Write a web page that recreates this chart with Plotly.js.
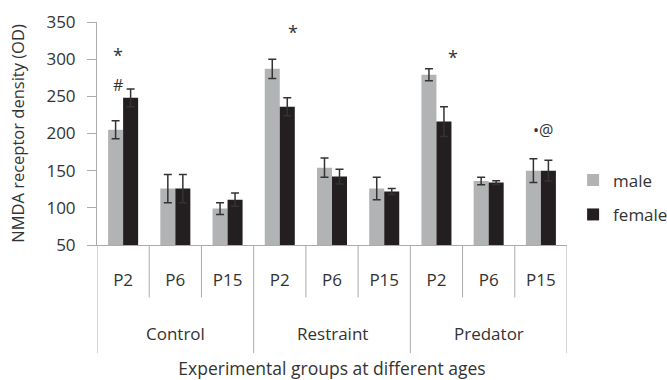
<!DOCTYPE html>
<html>
<head>
<meta charset="utf-8">
<script src="https://cdn.plot.ly/plotly-3.0.1.min.js"></script>
<style>html,body{margin:0;padding:0;background:#fff;}#chart{width:667px;height:380px;}</style>
</head>
<body>
<div id="chart"></div>
<script>
// Data
const groups = ["Control", "Restraint", "Predator"];
const ages = ["P2", "P6", "P15"];
const maleValues = [205, 126, 99, 287, 154, 126, 279, 136, 150];
const maleErrors = [12, 19, 8, 13, 13, 15, 8, 5, 16];
const femaleValues = [248, 126, 111, 236, 142, 122, 216, 134, 150];
const femaleErrors = [12, 19, 9, 12, 10, 4, 20, 2.5, 14];
const markLabels = ["*", "#", "*", "*", "•@"];
const markX = [-0.1, -0.1, 3.25, 6.32, 8.04];
const markY = [305, 265, 336, 303, 205];

const nAges = ages.length;
const nCats = groups.length * nAges;
const idx = Array.from({length: nCats}, (_, i) => i);
const tickText = idx.map(i => ages[i % nAges]);

const textColor = "#333333";
const lineColor = "#ababab";
const font = "Open Sans, DejaVu Sans, sans-serif";

const traces = [
  {type: "bar", name: "male", x: idx, y: maleValues,
   marker: {color: "#b2b3b5"},
   error_y: {type: "data", array: maleErrors, visible: true, color: "#333333", thickness: 1.5, width: 4},
   legend: "legend"},
  {type: "bar", name: "female", x: idx, y: femaleValues,
   marker: {color: "#231f20"},
   error_y: {type: "data", array: femaleErrors, visible: true, color: "#333333", thickness: 1.5, width: 4},
   legend: "legend2"}
];

const shapes = [];
for (let i = 0; i <= nCats; i++) {
  const isOuter = (i % nAges === 0);
  shapes.push({type: "line", xref: "x", yref: "paper", x0: i - 0.5, x1: i - 0.5,
    y0: 0, y1: isOuter ? -0.485 : -0.235, line: {color: lineColor, width: 1}});
}

const annotations = groups.map((g, gi) => ({
  text: g, x: gi * nAges + (nAges - 1) / 2, xref: "x", y: -0.395, yref: "paper",
  xanchor: "center", yanchor: "middle",
  showarrow: false, font: {family: font, size: 17, color: textColor}
}));
markLabels.forEach((t, i) => annotations.push({
  text: t, x: markX[i], y: markY[i], xref: "x", yref: "y", showarrow: false,
  font: {family: font, size: t === "*" ? 18 : 16, color: textColor}
}));

const layout = {
  width: 667, height: 380,
  margin: {l: 97, r: 100, t: 22, b: 135, autoexpand: false},
  paper_bgcolor: "#fff", plot_bgcolor: "#fff",
  font: {family: font, size: 17, color: textColor},
  barmode: "group", bargap: 0.425, bargroupgap: 0,
  xaxis: {range: [-0.5, nCats - 0.5], tickvals: idx, ticktext: tickText,
    showline: true, linecolor: lineColor, linewidth: 1, ticks: "", showgrid: false, zeroline: false,
    ticklabelstandoff: 20, tickfont: {size: 17, color: textColor},
    title: {text: "Experimental groups at different ages", font: {size: 17.5, color: textColor}, standoff: 79},
    automargin: false, fixedrange: true},
  yaxis: {range: [50, 350], dtick: 50, showline: true, linecolor: lineColor, linewidth: 1,
    ticks: "outside", ticklen: 9, tickcolor: lineColor, showgrid: false, zeroline: false,
    ticklabelstandoff: 8,
    tickfont: {size: 17, color: textColor},
    title: {text: "NMDA receptor density (OD)", font: {size: 16.5, color: textColor}, standoff: 17},
    automargin: false, fixedrange: true},
  legend: {x: 1.013, xanchor: "left", y: 0.29, yanchor: "middle", font: {size: 17, color: textColor}, bgcolor: "rgba(0,0,0,0)"},
  legend2: {x: 1.013, xanchor: "left", y: 0.135, yanchor: "middle", font: {size: 17, color: textColor}, bgcolor: "rgba(0,0,0,0)"},
  showlegend: true,
  shapes: shapes,
  annotations: annotations
};

Plotly.newPlot("chart", traces, layout, {displayModeBar: false, staticPlot: true});
</script>
</body>
</html>
